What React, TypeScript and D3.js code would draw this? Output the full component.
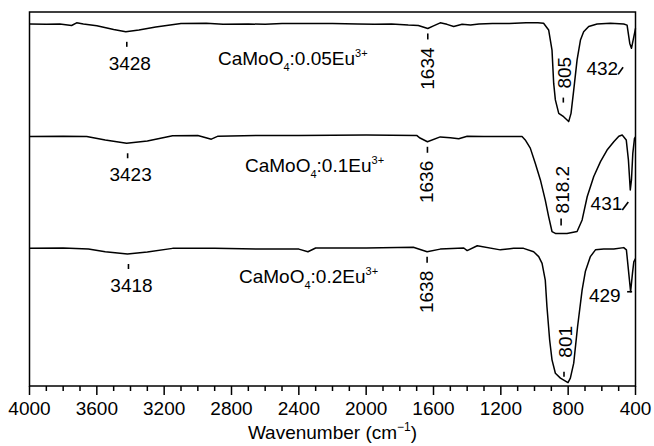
import React, { useEffect, useRef } from "react";
import * as d3 from "d3";

// FTIR spectra, [wavenumber (cm-1), transmittance (a.u., offset)]
const spectrum005: [number, number][] = [
  [4000, 96.8], [3900, 96.7], [3820, 96.8], [3750, 96.4], [3720, 97.1], [3680, 96.8],
  [3600, 96.3], [3500, 95.3], [3428, 94.7], [3350, 95.2], [3250, 96.0], [3100, 96.9],
  [2950, 97.0], [2850, 96.7], [2700, 96.8], [2600, 96.7], [2500, 96.9], [2350, 96.9],
  [2200, 96.9], [2050, 96.8], [1950, 96.7], [1850, 96.8], [1750, 96.5], [1690, 96.4],
  [1634, 95.6], [1600, 96.3], [1560, 97.1], [1520, 96.7], [1480, 96.1], [1430, 96.7],
  [1380, 96.5], [1330, 96.8], [1250, 96.9], [1150, 96.9], [1050, 97.1], [980, 97.1],
  [946, 97.0], [916, 95.2], [896, 89.8], [886, 80.9], [876, 76.5], [856, 72.9],
  [827, 72.0], [797, 70.7], [783, 72.9], [767, 79.1], [747, 87.2], [727, 92.5],
  [708, 94.7], [678, 96.1], [628, 96.8], [549, 97.0], [470, 96.8], [450, 96.5],
  [434, 91.6], [424, 90.3], [414, 92.5], [404, 94.7], [400, 95.6],
];

const spectrum01: [number, number][] = [
  [4000, 66.7], [3800, 66.8], [3660, 66.7], [3550, 65.8], [3423, 64.9], [3300, 65.5],
  [3150, 66.9], [3000, 67.0], [2920, 66.0], [2880, 66.8], [2600, 67.0], [2400, 67.0],
  [2000, 67.1], [1700, 67.0], [1680, 66.3], [1636, 65.3], [1560, 66.6], [1500, 66.4],
  [1450, 66.1], [1400, 66.8], [1300, 66.7], [1200, 66.7], [1074, 66.7], [1055, 65.8],
  [1025, 63.6], [995, 59.5], [965, 55.1], [936, 49.7], [916, 45.3], [896, 41.3],
  [876, 40.8], [807, 40.8], [747, 41.3], [717, 44.4], [687, 50.6], [648, 56.0],
  [608, 60.0], [569, 63.1], [529, 65.3], [499, 66.8], [479, 67.1], [455, 65.8],
  [442, 60.4], [431, 52.4], [424, 55.1], [416, 62.2], [406, 66.2], [400, 66.6],
];

const spectrum02: [number, number][] = [
  [4000, 36.8], [3800, 36.9], [3650, 36.6], [3550, 35.9], [3418, 35.3], [3300, 35.8],
  [3150, 36.8], [2900, 36.8], [2600, 36.6], [2400, 36.6], [2346, 35.9], [2300, 36.9],
  [2000, 36.9], [1720, 37.1], [1638, 35.9], [1560, 36.6], [1420, 36.9], [1400, 36.2],
  [1340, 37.5], [1203, 36.4], [1124, 36.8], [1065, 36.8], [1005, 35.9], [975, 34.6],
  [955, 32.8], [936, 28.3], [926, 21.2], [910, 12.3], [896, 7.0], [876, 3.4],
  [846, 2.1], [801, 0.9], [787, 2.1], [767, 6.1], [744, 15.9], [717, 25.7],
  [698, 30.6], [668, 34.6], [638, 36.4], [589, 36.6], [529, 36.6], [470, 37.0],
  [454, 36.4], [440, 30.1], [429, 25.2], [418, 30.1], [410, 33.2], [400, 34.1],
];

const spectra = [spectrum005, spectrum01, spectrum02];
const dopings = ["0.05", "0.1", "0.2"];

// peak annotations, one per spectrum
const ohPeaks = [3428, 3423, 3418];
const waterPeaks = [1634, 1636, 1638];
const moPeaks = [805, 818.2, 801];
const lowPeaks = [432, 431, 429];

const majorTicks = [4000, 3600, 3200, 2800, 2400, 2000, 1600, 1200, 800, 400];

const W = 654;
const H = 446;
const plot = { left: 29.5, right: 635.5, top: 12, bottom: 386 };
const FONT = "'Liberation Sans', Arial, Helvetica, sans-serif";

// lowest point of a spectrum close to a given wavenumber
const minNear = (spec: [number, number][], w: number, r = 12) =>
  d3.min(spec.filter((d) => Math.abs(d[0] - w) <= r), (d) => d[1]) as number;

const App = () => {
  const ref = useRef<SVGSVGElement>(null);

  useEffect(() => {
    const svg = d3.select(ref.current);
    svg.selectAll("*").remove();

    const x = d3.scaleLinear().domain([4000, 400]).range([plot.left, plot.right]);
    const y = d3.scaleLinear().domain([0, 100]).range([plot.bottom, plot.top]);

    // frame
    svg
      .append("rect")
      .attr("x", plot.left)
      .attr("y", plot.top)
      .attr("width", plot.right - plot.left)
      .attr("height", plot.bottom - plot.top)
      .attr("fill", "none")
      .attr("stroke", "#000")
      .attr("stroke-width", 1.5);

    // bottom axis: minor ticks every 100, major every 400
    const minor = d3.range(4000, 399, -100).filter((v) => !majorTicks.includes(v));
    const axisG = svg.append("g").attr("transform", `translate(0,${plot.bottom})`);
    axisG
      .selectAll("line.minor")
      .data(minor)
      .enter()
      .append("line")
      .attr("x1", (d) => x(d))
      .attr("x2", (d) => x(d))
      .attr("y1", 0)
      .attr("y2", 5)
      .attr("stroke", "#000")
      .attr("stroke-width", 1.5);
    axisG
      .selectAll("line.major")
      .data(majorTicks)
      .enter()
      .append("line")
      .attr("x1", (d) => x(d))
      .attr("x2", (d) => x(d))
      .attr("y1", 0)
      .attr("y2", 9)
      .attr("stroke", "#000")
      .attr("stroke-width", 1.5);
    axisG
      .selectAll("text")
      .data(majorTicks)
      .enter()
      .append("text")
      .attr("x", (d) => x(d))
      .attr("y", 29)
      .attr("text-anchor", "middle")
      .attr("font-family", FONT)
      .attr("font-size", 19)
      .text((d) => d);

    // axis title
    const title = svg
      .append("text")
      .attr("x", (plot.left + plot.right) / 2)
      .attr("y", 439)
      .attr("text-anchor", "middle")
      .attr("font-family", FONT)
      .attr("font-size", 19);
    title.append("tspan").text("Wavenumber (cm");
    title.append("tspan").attr("dy", -8).attr("font-size", 12).text("\u22121");
    title.append("tspan").attr("dy", 8).text(")");

    // spectra
    const line = d3
      .line<[number, number]>()
      .x((d) => x(d[0]))
      .y((d) => y(d[1]));
    svg
      .selectAll("path.spec")
      .data(spectra)
      .enter()
      .append("path")
      .attr("d", (d) => line(d))
      .attr("fill", "none")
      .attr("stroke", "#000")
      .attr("stroke-width", 1.5)
      .attr("stroke-linejoin", "round");

    const txt = (sel: any) =>
      sel.attr("font-family", FONT).attr("font-size", 19).attr("fill", "#000");
    const mark = (x1: number, y1: number, x2: number, y2: number) =>
      svg
        .append("line")
        .attr("x1", x1)
        .attr("y1", y1)
        .attr("x2", x2)
        .attr("y2", y2)
        .attr("stroke", "#000")
        .attr("stroke-width", 1.6);

    // sample labels
    const labelPos = [
      [218, 65],
      [245, 172],
      [239, 283],
    ];
    dopings.forEach((dop, i) => {
      const t = svg.append("text").attr("x", labelPos[i][0]).attr("y", labelPos[i][1]).call(txt);
      t.append("tspan").text("CaMoO");
      t.append("tspan").attr("dy", 6).attr("font-size", 11).text("4");
      t.append("tspan").attr("dy", -6).text(`:${dop}Eu`);
      t.append("tspan").attr("dy", -8).attr("font-size", 11).text("3+");
    });

    // O-H stretching
    ohPeaks.forEach((w, i) => {
      const px = x(w);
      const py = y(minNear(spectra[i], w));
      mark(px + 1, py + 10, px + 1, py + 15);
      svg
        .append("text")
        .attr("x", px + 4)
        .attr("y", py + 38)
        .attr("text-anchor", "middle")
        .call(txt)
        .text(w);
    });

    // H-O-H bending
    waterPeaks.forEach((w, i) => {
      const px = x(w);
      const py = y(minNear(spectra[i], w));
      mark(px, py + 5, px, py + 11);
      svg
        .append("text")
        .attr("transform", `translate(${px + 6},${py + 19}) rotate(-90)`)
        .attr("text-anchor", "end")
        .call(txt)
        .text(w);
    });

    // Mo-O stretching
    const moText = [-33, -20, -25];
    const moDash = [
      [-24, -19],
      [-15, -8],
      [-11, -6],
    ];
    moPeaks.forEach((w, i) => {
      const px = x(w);
      const py = y(minNear(spectra[i], w));
      mark(px - 4, py + moDash[i][0], px - 4, py + moDash[i][1]);
      svg
        .append("text")
        .attr("transform", `translate(${px + 4},${py + moText[i]}) rotate(-90)`)
        .attr("text-anchor", "start")
        .call(txt)
        .text(w);
    });

    // Mo-O bending
    lowPeaks.forEach((w, i) => {
      const px = x(w);
      const py = y(minNear(spectra[i], w));
      if (i === 0) {
        mark(px - 12, py + 26, px - 7, py + 19);
        svg.append("text").attr("x", px - 12).attr("y", py + 27).attr("text-anchor", "end").call(txt).text(w);
      } else if (i === 1) {
        mark(px - 8, py + 20, px - 2, py + 12);
        svg.append("text").attr("x", px - 8).attr("y", py + 20).attr("text-anchor", "end").call(txt).text(w);
      } else {
        mark(px - 3.5, py, px + 1.5, py);
        svg.append("text").attr("x", px - 10).attr("y", py + 10).attr("text-anchor", "end").call(txt).text(w);
      }
    });
  }, []);

  return (
    <div style={{ position: "absolute", left: 0, top: 0, background: "#fff" }}>
      <svg ref={ref} width={W} height={H} style={{ display: "block" }} />
    </div>
  );
};

export default App;
